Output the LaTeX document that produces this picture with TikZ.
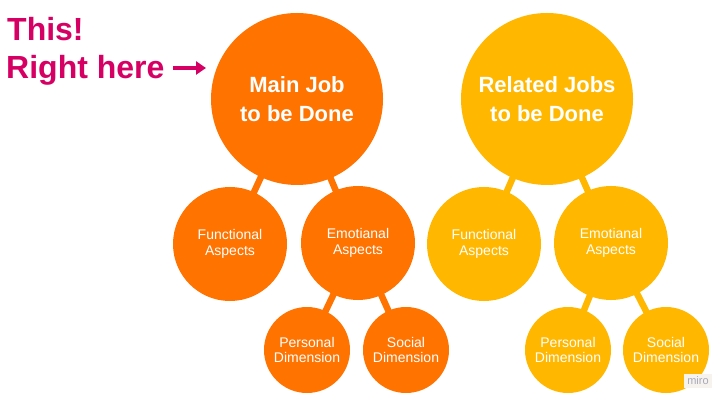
\documentclass[tikz,border=0pt]{standalone}
\usepackage{fontspec}
\setmainfont{Liberation Sans}
\usetikzlibrary{backgrounds,arrows.meta}
\definecolor{jobor}{RGB}{255,115,0}
\definecolor{jobyl}{RGB}{255,183,0}
\definecolor{pinkt}{RGB}{214,0,100}
\definecolor{mirot}{RGB}{168,168,184}
\definecolor{mirob}{RGB}{246,243,238}
\begin{document}
\begin{tikzpicture}[x=1pt,y=-1pt,
  bigc/.style={circle,inner sep=0pt,minimum size=172pt,text=white,align=center,
    font=\fontsize{22}{29}\selectfont\bfseries},
  midc/.style={circle,inner sep=0pt,minimum size=114pt,text=white,align=center,
    font=\fontsize{14}{15.5}\selectfont},
  smallc/.style={circle,inner sep=0pt,minimum size=86pt,text=white,align=center,
    font=\fontsize{14}{15.5}\selectfont},
  link/.style={line width=6.5pt},
  pinklabel/.style={anchor=base west,inner sep=0pt,text=pinkt,
    font=\fontsize{32}{36}\selectfont\bfseries}]
\useasboundingbox (0,0) rectangle (727,403);
% left group
\node[bigc,fill=jobor] (mj) at (297,99) {Main Job\\to be Done};
\node[midc,fill=jobor] (mf) at (230,244) {Functional\\Aspects};
\node[midc,fill=jobor] (me) at (358,243) {Emotianal\\Aspects};
\node[smallc,fill=jobor] (mp) at (307,350) {Personal\\Dimension};
\node[smallc,fill=jobor] (ms) at (406,350) {Social\\Dimension};
% right group
\node[bigc,fill=jobyl] (rj) at (547,99) {Related Jobs\\to be Done};
\node[midc,fill=jobyl] (rf) at (484,244) {Functional\\Aspects};
\node[midc,fill=jobyl] (re) at (611,243) {Emotianal\\Aspects};
\node[smallc,fill=jobyl] (rp) at (568,350) {Personal\\Dimension};
\node[smallc,fill=jobyl] (rs) at (666,350) {Social\\Dimension};
% pink labels
\node[pinklabel] (this) at (7,41) {This!};
\node[pinklabel] (here) at (6,79) {Right here};
\coordinate (arS) at (173,68);
\coordinate (arE) at (206,68);
\draw[pinkt,line width=4.2pt,-{Triangle[length=10pt,width=13pt]}] (arS) -- (arE);
% watermark
\node[fill=mirob,inner sep=3pt,text=mirot,font=\fontsize{11}{12}\selectfont] (miro) at (698,381) {miro};
\begin{scope}[on background layer]
\fill[white] (0,0) rectangle (727,403);
\draw[link,jobor] (mj.center) -- (mf.center);
\draw[link,jobor] (mj.center) -- (me.center);
\draw[link,jobor] (me.center) -- (mp.center);
\draw[link,jobor] (me.center) -- (ms.center);
\draw[link,jobyl] (rj.center) -- (rf.center);
\draw[link,jobyl] (rj.center) -- (re.center);
\draw[link,jobyl] (re.center) -- (rp.center);
\draw[link,jobyl] (re.center) -- (rs.center);
\end{scope}
\end{tikzpicture}
\end{document}
